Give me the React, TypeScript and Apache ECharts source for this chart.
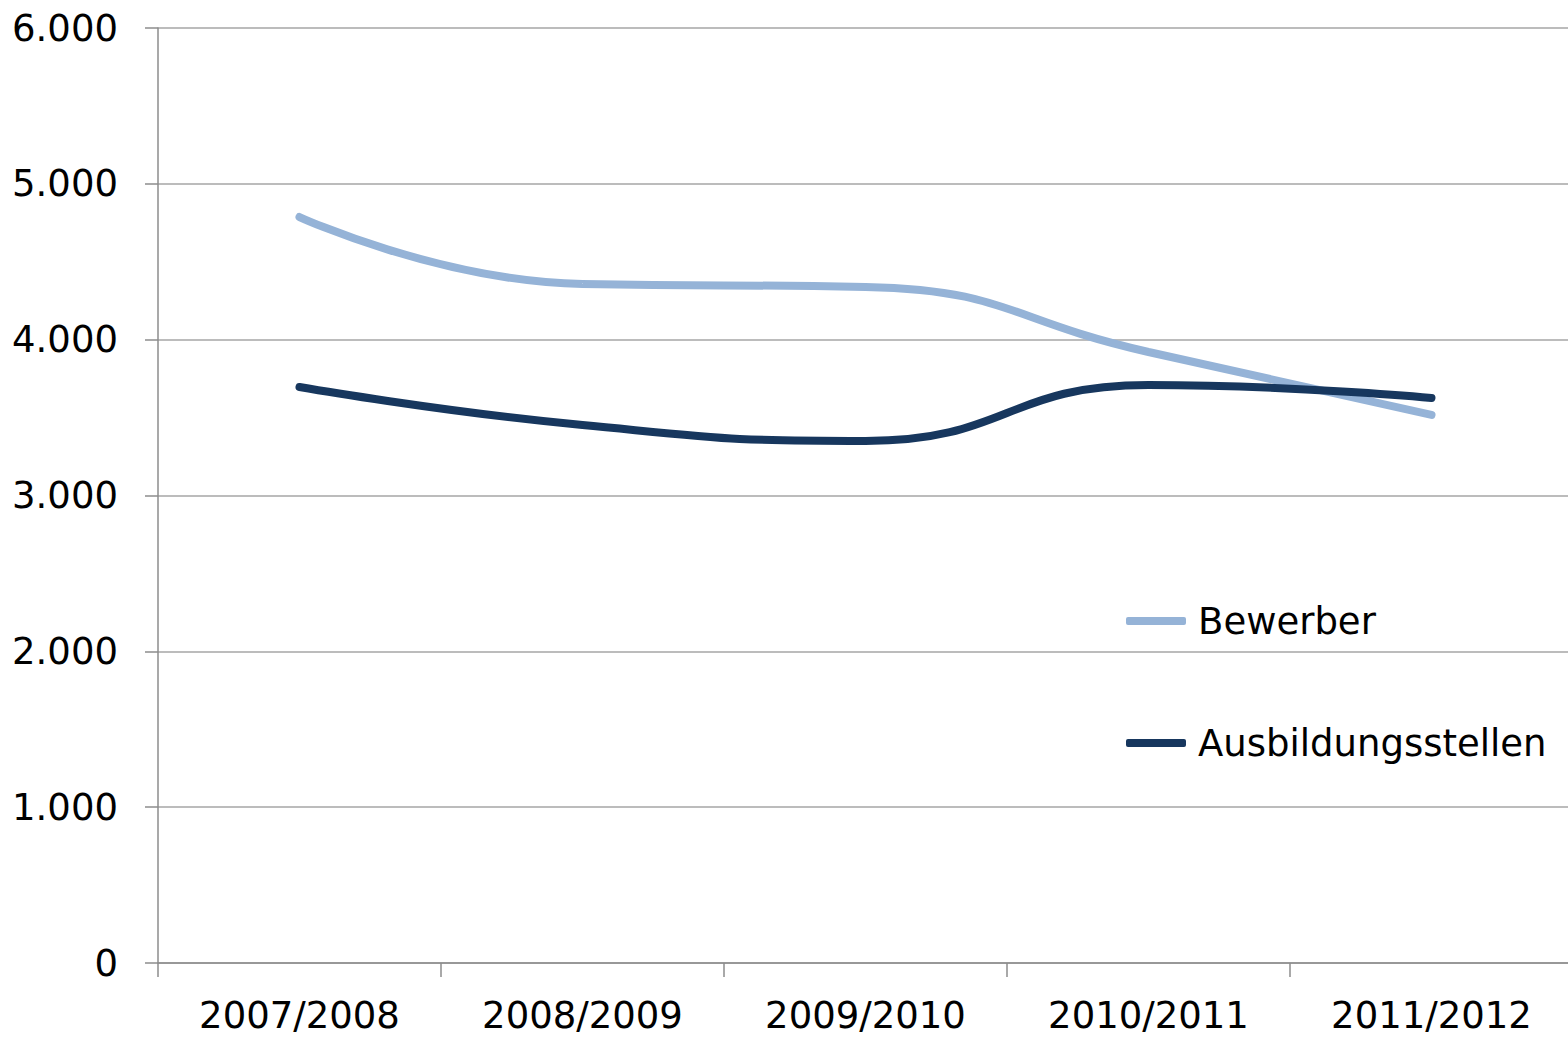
import React, { useEffect, useRef } from "react";
import * as echarts from "echarts";

const categories = ["2007/2008", "2008/2009", "2009/2010", "2010/2011", "2011/2012"];
const bewerber = [4787, 4357, 4338, 3921, 3517];
const ausbildungsstellen = [3696, 3452, 3350, 3709, 3626];
const yTicks = [0, 1000, 2000, 3000, 4000, 5000, 6000];

const FONT = "DejaVu Sans";

export default function App() {
  const ref = useRef<HTMLDivElement>(null);
  useEffect(() => {
    if (!ref.current) return;
    const chart = echarts.init(ref.current, null, { renderer: "svg" });
    chart.setOption({
      animation: false,
      backgroundColor: "#ffffff",
      grid: { left: 158, top: 28, right: 0, bottom: 74, containLabel: false },
      legend: {
        orient: "vertical",
        left: 1126,
        top: 600,
        padding: 0,
        itemWidth: 60,
        itemHeight: 8,
        itemGap: 80,
        icon: "roundRect",
        data: ["Bewerber", "Ausbildungsstellen"],
        textStyle: { fontFamily: FONT, fontSize: 37, color: "#000", padding: [0, 0, 0, 7], lineHeight: 42 },
      },
      xAxis: {
        type: "category",
        data: categories,
        boundaryGap: true,
        axisLine: { show: true, lineStyle: { color: "#8c8c8c", width: 1.5 } },
        axisTick: { show: true, length: 14, lineStyle: { color: "#8c8c8c", width: 1.5 } },
        axisLabel: {
          fontFamily: FONT,
          fontSize: 37,
          color: "#000",
          margin: 34,
        },
      },
      yAxis: {
        type: "value",
        min: 0,
        max: 6000,
        interval: 1000,
        axisLine: { show: true, lineStyle: { color: "#8c8c8c", width: 1.5 } },
        axisTick: { show: true, length: 13, lineStyle: { color: "#8c8c8c", width: 1.5 } },
        splitLine: { show: true, lineStyle: { color: "#a6a6a6", width: 1.5 } },
        axisLabel: {
          fontFamily: FONT,
          fontSize: 37,
          color: "#000",
          margin: 40,
          formatter: (v: number) =>
            yTicks.includes(v) ? (v === 0 ? "0" : `${Math.floor(v / 1000)}.${String(v % 1000).padStart(3, "0")}`) : "",
        },
      },
      series: [
        {
          name: "Bewerber",
          type: "line",
          data: bewerber,
          smooth: 0.5,
          symbol: "none",
          itemStyle: { color: "#95b3d7" },
          lineStyle: { color: "#95b3d7", width: 8, cap: "round" },
          z: 2,
        },
        {
          name: "Ausbildungsstellen",
          type: "line",
          data: ausbildungsstellen,
          smooth: 0.5,
          symbol: "none",
          itemStyle: { color: "#17375e" },
          lineStyle: { color: "#17375e", width: 8, cap: "round" },
          z: 3,
        },
      ],
    });
    return () => chart.dispose();
  }, []);
  return (
    <div
      style={{ position: "fixed", left: 0, top: 0, width: 1568, height: 1037, overflow: "hidden", background: "#fff" }}
    >
      <div ref={ref} style={{ width: 1573, height: 1037 }} />
    </div>
  );
}
